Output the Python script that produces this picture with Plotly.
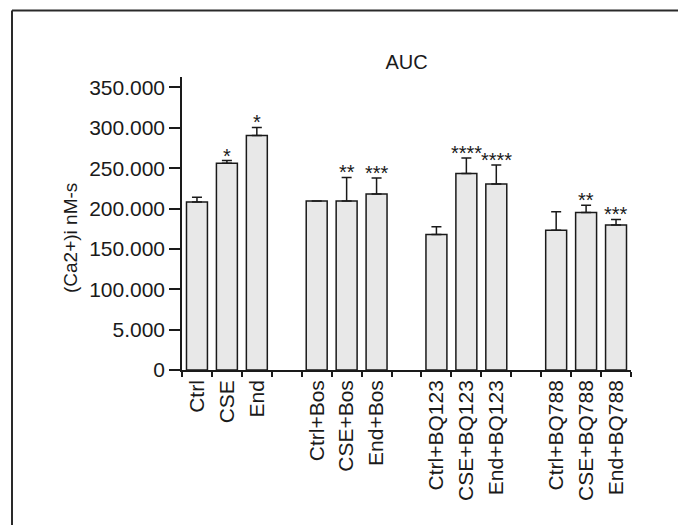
import plotly.graph_objects as go

# Groups of conditions; blank slots separate the four treatment groups
categories = ["Ctrl", "CSE", "End", " ",
              "Ctrl+Bos", "CSE+Bos", "End+Bos", "  ",
              "Ctrl+BQ123", "CSE+BQ123", "End+BQ123", "   ",
              "Ctrl+BQ788", "CSE+BQ788", "End+BQ788"]

# Mean AUC (thousands of nM-s) and upper error (SEM); None = blank slot / no error
means = [208.0, 256.0, 290.5, None,
         209.5, 209.5, 218.0, None,
         168.0, 243.5, 230.5, None,
         173.0, 195.0, 179.5]
errors = [6.0, 3.5, 10.0, None,
          None, 29.0, 20.0, None,
          9.5, 19.0, 23.5, None,
          23.0, 9.0, 7.0]
stars = ["", "*", "*", "",
         "", "**", "***", "",
         "", "****", "****", "",
         "", "**", "***"]

ytick_vals = [0, 50, 100, 150, 200, 250, 300, 350]
ytick_text = ["0", "5.000", "100.000", "150.000", "200.000", "250.000", "300.000", "350.000"]

W, H = 678, 525
ML, MR, MT, MB = 182, 47, 77, 155
FONT = "Liberation Sans, Arial, Helvetica, sans-serif"
INK = "#1a1a1a"

fig = go.Figure()
fig.add_trace(go.Bar(
    x=categories,
    y=means,
    marker=dict(color="#e8e8e8", line=dict(color=INK, width=1.5)),
    error_y=dict(type="data", symmetric=False,
                 array=[e if e is not None else 0 for e in errors],
                 arrayminus=[0] * len(errors),
                 visible=True, color=INK, thickness=1.5, width=5),
    showlegend=False,
))

# significance marks above the error bars
for cat, m, e, s in zip(categories, means, errors, stars):
    if s and m is not None:
        fig.add_annotation(x=cat, y=m + (e or 0), text=s, showarrow=False,
                           xref="x", yref="y", yanchor="bottom", yshift=-8,
                           font=dict(family=FONT, size=20, color=INK))

pw = W - ML - MR
ph = H - MT - MB

def px_x(px):
    return (px - ML) / pw

def px_y(py):
    return (H - MB - py) / ph

# outer frame lines (top and left edges)
fig.add_shape(type="line", xref="paper", yref="paper",
              x0=px_x(12), x1=px_x(W + 5), y0=px_y(10.5), y1=px_y(10.5),
              line=dict(color="#2a2a2a", width=2))
fig.add_shape(type="line", xref="paper", yref="paper",
              x0=px_x(12), x1=px_x(12), y0=px_y(10.5), y1=px_y(H + 5),
              line=dict(color="#2a2a2a", width=2))

# y-axis title
fig.add_annotation(text="(Ca2+)i nM-s", textangle=-90, showarrow=False,
                   xref="paper", yref="paper", x=px_x(70), y=px_y(238),
                   xanchor="center", yanchor="middle",
                   font=dict(family=FONT, size=19, color=INK))

fig.update_layout(
    width=W, height=H,
    margin=dict(l=ML, r=MR, t=MT, b=MB, autoexpand=False),
    paper_bgcolor="white", plot_bgcolor="white",
    bargap=0.3,
    font=dict(family=FONT, color=INK),
    title=dict(text="AUC", x=(ML + pw / 2) / W, xanchor="center",
               y=1 - 62 / H, yanchor="middle", yref="container",
               font=dict(family=FONT, size=20, color=INK)),
    xaxis=dict(type="category", categoryorder="array", categoryarray=categories,
               range=[-0.5, len(categories) - 0.5],
               showline=True, linecolor=INK, linewidth=1.5,
               ticks="outside", tickson="boundaries", ticklen=5, tickwidth=1.5,
               tickcolor=INK, tickangle=-90, showgrid=False, zeroline=False,
               tickfont=dict(family=FONT, size=21, color=INK)),
    yaxis=dict(range=[0, 363], tickvals=ytick_vals, ticktext=ytick_text,
               showline=True, linecolor=INK, linewidth=1.5,
               ticks="outside", ticklen=11, tickwidth=1.5, tickcolor=INK,
               showgrid=False, zeroline=False, automargin=False,
               tickfont=dict(family=FONT, size=21, color=INK)),
)

fig.write_html("out.html")
